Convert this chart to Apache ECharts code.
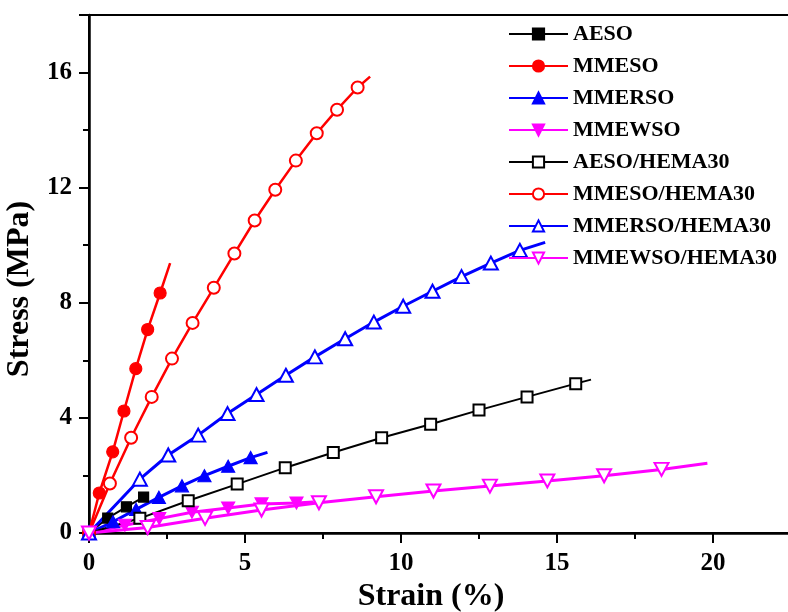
<!DOCTYPE html>
<html>
<head>
<meta charset="utf-8">
<script src="https://cdn.jsdelivr.net/npm/echarts@6/dist/echarts.min.js"></script>
<style>
  html, body { margin: 0; padding: 0; background: #fff; }
  #chart { width: 788px; height: 612px; }
</style>
</head>
<body>
<div id="chart"></div>
<script>
// Tensile stress-strain curves (strain in %, stress in MPa)
const strainAESO = [0, 0.60, 1.20, 1.75];
const stressAESO = [0, 0.52, 0.91, 1.25];

const strainMMESO = [0, 0.33, 0.76, 1.12, 1.50, 1.88, 2.28, 2.60];
const stressMMESO = [0, 1.39, 2.82, 4.24, 5.71, 7.07, 8.34, 9.38];

const strainMMERSO = [0, 0.77, 1.51, 2.24, 2.98, 3.70, 4.46, 5.18, 5.72];
const stressMMERSO = [0, 0.39, 0.82, 1.24, 1.64, 1.99, 2.32, 2.62, 2.80];

const strainMMEWSO = [0, 1.15, 2.25, 3.30, 4.46, 5.53, 6.65, 7.20];
const stressMMEWSO = [0, 0.27, 0.50, 0.72, 0.87, 1.01, 1.04, 1.08];

const strainAESOH = [0, 1.63, 3.18, 4.75, 6.29, 7.83, 9.38, 10.95, 12.50, 14.04, 15.60, 16.09];
const stressAESOH = [0, 0.51, 1.12, 1.70, 2.27, 2.80, 3.31, 3.78, 4.27, 4.73, 5.19, 5.33];

const strainMMESOH = [0, 0.67, 1.35, 2.01, 2.66, 3.32, 4.00, 4.66, 5.31, 5.97, 6.63, 7.30, 7.95, 8.61, 9.01];
const stressMMESOH = [0, 1.72, 3.31, 4.73, 6.06, 7.30, 8.52, 9.71, 10.86, 11.93, 12.94, 13.89, 14.71, 15.48, 15.86];

const strainMMERSOH = [0, 1.63, 2.54, 3.50, 4.44, 5.37, 6.31, 7.24, 8.21, 9.13, 10.07, 11.01, 11.94, 12.88, 13.81, 14.62];
const stressMMERSOH = [0, 1.87, 2.71, 3.40, 4.15, 4.81, 5.48, 6.12, 6.75, 7.33, 7.88, 8.40, 8.91, 9.38, 9.82, 10.10];

const strainMMEWSOH = [0, 1.88, 3.72, 5.53, 7.37, 9.20, 11.04, 12.85, 14.69, 16.51, 18.35, 19.82];
const stressMMEWSOH = [0, 0.19, 0.51, 0.80, 1.05, 1.26, 1.46, 1.63, 1.81, 1.99, 2.21, 2.42];

const xTicks = [0, 5, 10, 15, 20];
const yTicks = [0, 4, 8, 12, 16];

const FONT = '"Liberation Serif", "Times New Roman", serif';

// name, strain, stress, colour, symbol, rotate, size, line width, curve runs past last marker
const curves = [
  ['AESO', strainAESO, stressAESO, '#000000', 'rect', 0, 10, 2, false],
  ['MMESO', strainMMESO, stressMMESO, '#ff0000', 'circle', 0, 12, 2.5, true],
  ['MMERSO', strainMMERSO, stressMMERSO, '#0000ff', 'triangle', 0, [13, 12], 3, true],
  ['MMEWSO', strainMMEWSO, stressMMEWSO, '#ff00ff', 'triangle', 180, [13, 12], 3, true],
  ['AESO/HEMA30', strainAESOH, stressAESOH, '#000000', 'emptyRect', 0, 11, 2, true],
  ['MMESO/HEMA30', strainMMESOH, stressMMESOH, '#ff0000', 'emptyCircle', 0, 12, 2.5, true],
  ['MMERSO/HEMA30', strainMMERSOH, stressMMERSOH, '#0000ff', 'emptyTriangle', 0, [14, 13], 3, true],
  ['MMEWSO/HEMA30', strainMMEWSOH, stressMMEWSOH, '#ff00ff', 'emptyTriangle', 180, [14, 13], 3, true]
];

const series = curves.map(([name, xs, ys, color, symbol, rot, size, lw, tail]) => ({
  name: name,
  type: 'line',
  symbol: symbol,
  symbolRotate: rot,
  symbolSize: size,
  clip: false,
  z: 2,
  lineStyle: { color: color, width: lw },
  itemStyle: { color: color, borderColor: color, borderWidth: 1.2 },
  emphasis: { disabled: true },
  data: xs.map((x, i) => {
    const item = { value: [x, ys[i]] };
    if (tail && i === xs.length - 1) item.symbol = 'none';
    return item;
  })
}));

const chart = echarts.init(document.getElementById('chart'), null, { renderer: 'canvas' });
chart.setOption({
  animation: false,
  backgroundColor: '#ffffff',
  grid: {
    left: 89, top: 15, width: 702, height: 518,
    outerBoundsMode: 'none',
    containLabel: false,
    show: true, borderColor: '#000', borderWidth: 2, backgroundColor: 'transparent'
  },
  legend: {
    orient: 'vertical',
    left: 503, top: 18,
    itemWidth: 59, itemHeight: 14, itemGap: 10,
    data: curves.map(c => c[0]),
    textStyle: { fontFamily: FONT, fontWeight: 'bold', fontSize: 22, color: '#000' }
  },
  xAxis: {
    type: 'value',
    min: 0, max: 22.5, interval: 5,
    name: 'Strain (%)',
    nameLocation: 'middle',
    nameGap: 48,
    nameTextStyle: { fontFamily: FONT, fontWeight: 'bold', fontSize: 32, color: '#000', padding: [0, 18, 0, 0] },
    axisLine: { show: true, lineStyle: { color: '#000', width: 2.5 } },
    axisTick: { show: true, length: 10, lineStyle: { color: '#000', width: 2 } },
    minorTick: { show: true, splitNumber: 2, length: 6, lineStyle: { color: '#000', width: 2 } },
    splitLine: { show: false },
    axisLabel: {
      margin: 18, fontFamily: FONT, fontWeight: 'bold', fontSize: 25, color: '#000',
      formatter: v => (xTicks.includes(v) ? String(v) : '')
    }
  },
  yAxis: {
    type: 'value',
    min: 0, max: 18, interval: 4,
    name: 'Stress (MPa)',
    nameLocation: 'middle',
    nameGap: 50,
    nameRotate: 90,
    nameTextStyle: { fontFamily: FONT, fontWeight: 'bold', fontSize: 32, color: '#000', padding: [0, 30, 0, 0] },
    axisLine: { show: true, lineStyle: { color: '#000', width: 2.5 } },
    axisTick: { show: true, length: 10, lineStyle: { color: '#000', width: 2 } },
    minorTick: { show: true, splitNumber: 2, length: 6, lineStyle: { color: '#000', width: 2 } },
    splitLine: { show: false },
    axisLabel: {
      margin: 17, fontFamily: FONT, fontWeight: 'bold', fontSize: 25, color: '#000',
      formatter: v => (yTicks.includes(v) ? String(v) : '')
    }
  },
  series: series
});
</script>
</body>
</html>
